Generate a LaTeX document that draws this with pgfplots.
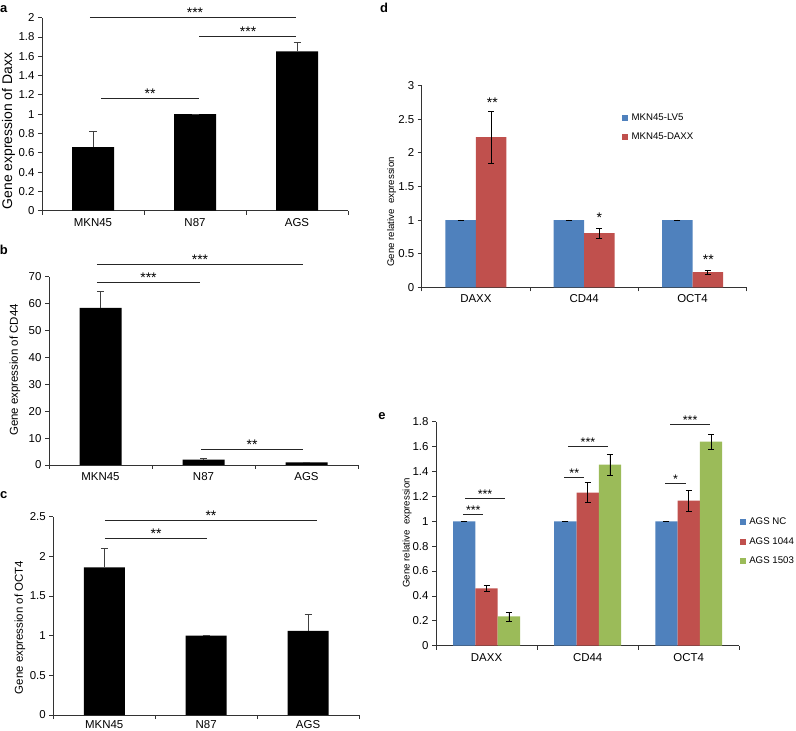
\documentclass[border=0pt]{standalone}
\usepackage{fontspec}
\setmainfont{Liberation Sans}
\usepackage{pgfplots}
\pgfplotsset{compat=1.18}
\definecolor{xblue}{RGB}{79,129,189}
\definecolor{xred}{RGB}{192,80,77}
\definecolor{xgreen}{RGB}{155,187,89}
\pgfplotsset{
  panel/.style={
    scale only axis,
    anchor=south west,
    axis x line*=bottom, axis y line*=left,
    axis line style={black!80, line width=0.8bp},
    tick align=outside,
    tick style={black!80, line width=0.8bp},
    major tick length=4bp,
    xmin=0, xmax=3, xtick={0,1,2,3},
    x tick label as interval,
    ymin=0,
    clip=false,
    /pgf/number format/assume math mode=true,
    tick label style={font=\fontsize{11.5}{13}\selectfont},
    yticklabel style={/pgf/number format/fixed, /pgf/number format/precision=1},
  },
  blackbar/.style={fill=black, draw=none,
    error bars/.cd, y dir=plus, y explicit,
    error bar style={black!75, line width=0.6bp},
    error mark options={black!75, line width=0.6bp, mark size=3.5bp, rotate=90}},
  colbar/.style={fill=#1, draw=none,
    legend image code/.code={\fill[#1] (0bp,-3.1bp) rectangle (6.3bp,3.1bp);},
    error bars/.cd, y dir=both, y explicit,
    error bar style={black, line width=0.6bp},
    error mark options={black, line width=0.6bp, mark size=3bp, rotate=90}},
  sqlegend/.style={
    legend style={draw=none, fill=none, inner sep=0pt, row sep=7.3bp, column sep=1.5bp,
      font=\fontsize{9.7}{11}\selectfont, anchor=north west},
    legend cell align=left,
  },
}
\tikzset{
  sig/.style={black!85, line width=1bp},
  star/.style={anchor=base, inner sep=0pt, font=\fontsize{14}{14}\selectfont},
  sstar/.style={anchor=base, inner sep=0pt, font=\fontsize{12.5}{12.5}\selectfont},
}
\begin{document}
\begin{tikzpicture}
\path[use as bounding box] (0bp,0bp) rectangle (796bp,731bp);

% ---------- panel a ----------
\begin{axis}[panel, ybar, bar width=42bp, at={(42bp,520.3bp)}, width=306bp, height=193bp,
  ymax=2, ytick={0,0.2,0.4,0.6,0.8,1,1.2,1.4,1.6,1.8,2},
  xticklabels={MKN45,N87,AGS}]
\addplot[blackbar] coordinates {(0.5,0.66) +- (0,0.16) (1.5,1.0) +- (0,0) (2.5,1.65) +- (0,0.09)};
\draw[sig] (axis cs:0.47,2) -- (axis cs:2.49,2);
\node[star] at (axis cs:1.50,2.0) {***};
\draw[sig] (axis cs:1.54,1.81) -- (axis cs:2.49,1.81);
\node[star] at (axis cs:2.02,1.81) {***};
\draw[sig] (axis cs:0.58,1.16) -- (axis cs:1.54,1.16);
\node[star] at (axis cs:1.06,1.16) {**};
\end{axis}

% ---------- panel b ----------
\begin{axis}[panel, ybar, bar width=42bp, at={(49bp,266bp)}, width=309bp, height=188.3bp,
  ymax=70, ytick={0,10,20,30,40,50,60,70},
  xticklabels={MKN45,N87,AGS}]
\addplot[blackbar] coordinates {(0.5,58.4) +- (0,6.1) (1.5,2.0) +- (0,0.5) (2.5,1.0) +- (0,0.1)};
\draw[sig] (axis cs:0.466,74.7) -- (axis cs:2.466,74.7);
\node[star] at (axis cs:1.466,74.7) {***};
\draw[sig] (axis cs:0.466,67.9) -- (axis cs:1.466,67.9);
\node[star] at (axis cs:0.966,67.9) {***};
\draw[sig] (axis cs:1.476,5.8) -- (axis cs:2.466,5.8);
\node[star] at (axis cs:1.971,5.8) {**};
\end{axis}

% ---------- panel c ----------
\begin{axis}[panel, ybar, bar width=41bp, at={(53.3bp,16bp)}, width=305.7bp, height=198.3bp,
  ymax=2.5, ytick={0,0.5,1,1.5,2,2.5},
  xticklabels={MKN45,N87,AGS},
  xticklabel style={yshift=2bp}]
\addplot[blackbar] coordinates {(0.5,1.86) +- (0,0.24) (1.5,1.0) +- (0,0) (2.5,1.06) +- (0,0.21)};
\draw[sig] (axis cs:0.507,2.45) -- (axis cs:2.588,2.45);
\node[star] at (axis cs:1.547,2.45) {**};
\draw[sig] (axis cs:0.507,2.23) -- (axis cs:1.508,2.23);
\node[star] at (axis cs:1.008,2.23) {**};
\end{axis}

% ---------- panel d ----------
\begin{axis}[panel, sqlegend, ybar=0pt, bar width=30.5bp, at={(421.7bp,443.7bp)}, width=325bp, height=201.6bp,
  ymax=3, ytick={0,0.5,1,1.5,2,2.5,3},
  xticklabels={DAXX,CD44,OCT4},
  legend style={at={(0.615,0.872)}}]
\addplot[colbar=xblue] coordinates {(0.5,1) +- (0,0.004) (1.5,1) +- (0,0.004) (2.5,1) +- (0,0.004)};
\addlegendentry{MKN45-LV5}
\addplot[colbar=xred] coordinates {(0.5,2.235) +- (0,0.385) (1.5,0.805) +- (0,0.075) (2.5,0.225) +- (0,0.025)};
\addlegendentry{MKN45-DAXX}
\node[star] at (axis cs:0.652,2.68) {**};
\node[star] at (axis cs:1.640,0.957) {*};
\node[star] at (axis cs:2.646,0.336) {**};
\end{axis}

% ---------- panel e ----------
\begin{axis}[panel, sqlegend, ybar=0pt, bar width=22.3bp, at={(436bp,85.3bp)}, width=303.3bp, height=224bp,
  ymax=1.8, ytick={0,0.2,0.4,0.6,0.8,1,1.2,1.4,1.6,1.8},
  xticklabels={DAXX,CD44,OCT4},
  legend style={at={(1.0,0.579)}}]
\addplot[colbar=xblue] coordinates {(0.5,1) +- (0,0.003) (1.5,1) +- (0,0.003) (2.5,1) +- (0,0.003)};
\addlegendentry{AGS NC}
\addplot[colbar=xred] coordinates {(0.5,0.46) +- (0,0.025) (1.5,1.23) +- (0,0.08) (2.5,1.165) +- (0,0.085)};
\addlegendentry{AGS 1044}
\addplot[colbar=xgreen] coordinates {(0.5,0.235) +- (0,0.035) (1.5,1.455) +- (0,0.085) (2.5,1.64) +- (0,0.06)};
\addlegendentry{AGS 1503}
\draw[sig] (axis cs:0.270,1.056) -- (axis cs:0.468,1.056);
\node[sstar] at (axis cs:0.369,1.056) {***};
\draw[sig] (axis cs:0.287,1.184) -- (axis cs:0.682,1.184);
\node[sstar] at (axis cs:0.485,1.184) {***};
\draw[sig] (axis cs:1.269,1.348) -- (axis cs:1.467,1.348);
\node[sstar] at (axis cs:1.368,1.348) {**};
\draw[sig] (axis cs:1.309,1.597) -- (axis cs:1.698,1.597);
\node[sstar] at (axis cs:1.503,1.597) {***};
\draw[sig] (axis cs:2.268,1.30) -- (axis cs:2.470,1.30);
\node[sstar] at (axis cs:2.369,1.30) {*};
\draw[sig] (axis cs:2.318,1.78) -- (axis cs:2.710,1.78);
\node[sstar] at (axis cs:2.514,1.78) {***};
\end{axis}

% ---------- y labels ----------
\node[rotate=90, font=\fontsize{14}{16}\selectfont] at (8.5bp,600bp) {Gene expression of Daxx};
\node[rotate=90, font=\fontsize{11.5}{13}\selectfont] at (15bp,361bp) {Gene expression of CD44};
\node[rotate=90, font=\fontsize{11.5}{13}\selectfont] at (20bp,103.5bp) {Gene expression of OCT4};
\node[rotate=90, font=\fontsize{9.7}{11}\selectfont] at (391.7bp,519bp) {Gene relative\ \ expression};
\node[rotate=90, font=\fontsize{9.7}{11}\selectfont] at (407bp,198bp) {Gene relative\ \ expression};

% ---------- panel letters ----------
\node[font=\bfseries\fontsize{13}{15}\selectfont, inner sep=0pt] at (3.8bp,722bp) {a};
\node[font=\bfseries\fontsize{13}{15}\selectfont, inner sep=0pt] at (3.8bp,481bp) {b};
\node[font=\bfseries\fontsize{13}{15}\selectfont, inner sep=0pt] at (3.8bp,236bp) {c};
\node[font=\bfseries\fontsize{13}{15}\selectfont, inner sep=0pt] at (384bp,723bp) {d};
\node[font=\bfseries\fontsize{13}{15}\selectfont, inner sep=0pt] at (382bp,315bp) {e};
\end{tikzpicture}
\end{document}
